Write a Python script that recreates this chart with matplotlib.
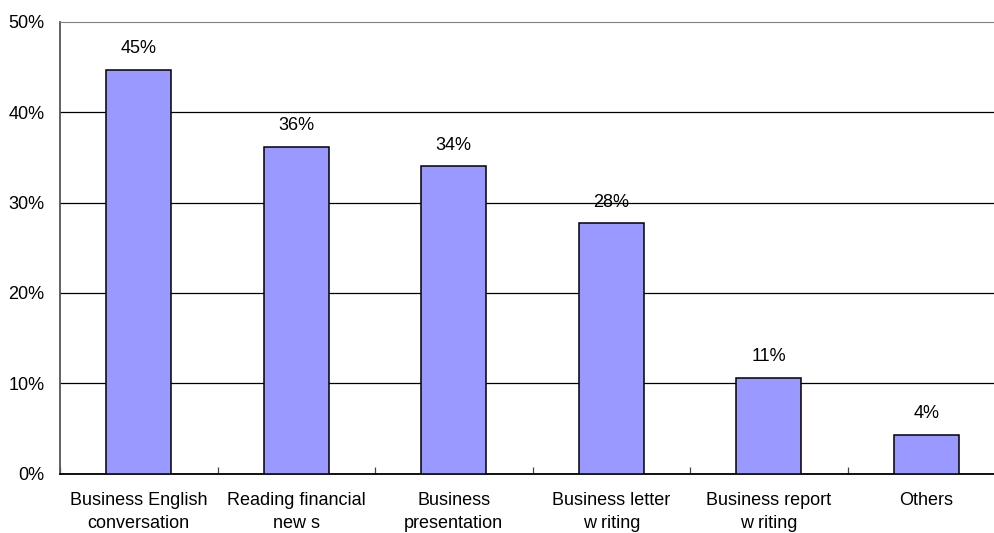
import matplotlib
matplotlib.use("Agg")
import matplotlib.pyplot as plt
import numpy as np

categories = [
    "Business English\nconversation",
    "Reading financial\nnew s",
    "Business\npresentation",
    "Business letter\nw riting",
    "Business report\nw riting",
    "Others",
]
shares = [44.7, 36.2, 34.0, 27.7, 10.6, 4.3]
y_ticks = [0, 10, 20, 30, 40, 50]

plt.rcParams["font.family"] = ["Liberation Sans", "DejaVu Sans"]
FS = 13

fig = plt.figure(figsize=(9.94, 5.33), dpi=100)
W, H = 994, 533
left, right, top, bottom = 60, 1005, 22, 473.5
ax = fig.add_axes([left / W, 1 - bottom / H, (right - left) / W, (bottom - top) / H])

x = np.arange(len(categories))
bars = ax.bar(x, shares, width=0.41, color="#9999FF", edgecolor="black", linewidth=1.1, zorder=3)

for rect, v in zip(bars, shares):
    ax.annotate(f"{v:.0f}%", (rect.get_x() + rect.get_width() / 2, v),
                xytext=(0, 9), textcoords="offset points",
                ha="center", va="bottom", fontsize=FS)

ax.set_xlim(-0.5, len(categories) - 0.5)
ax.set_ylim(0, 50)
ax.set_yticks(y_ticks)
ax.set_yticklabels([f"{t}%" for t in y_ticks])
ax.yaxis.grid(True, color="black", linewidth=0.9, zorder=1)
ax.get_ygridlines()[-1].set_visible(False)
ax.set_axisbelow(True)

ax.set_xticks(x)
ax.set_xticklabels(categories, linespacing=1.45)
ax.set_xticks(np.arange(len(categories) + 1) - 0.5, minor=True)
ax.tick_params(axis="x", which="major", length=0, pad=13.5, labelsize=FS)
ax.tick_params(axis="x", which="minor", direction="in", length=5, width=0.9, color="#444444")
ax.tick_params(axis="y", length=0, pad=11, labelsize=FS)

ax.spines["top"].set_color("#808080")
ax.spines["right"].set_visible(False)
ax.spines["left"].set_color("#555555")
ax.spines["bottom"].set_color("black")
ax.spines["left"].set_linewidth(1.3)
ax.spines["bottom"].set_linewidth(1.3)

fig.savefig("out.png", dpi=100)
